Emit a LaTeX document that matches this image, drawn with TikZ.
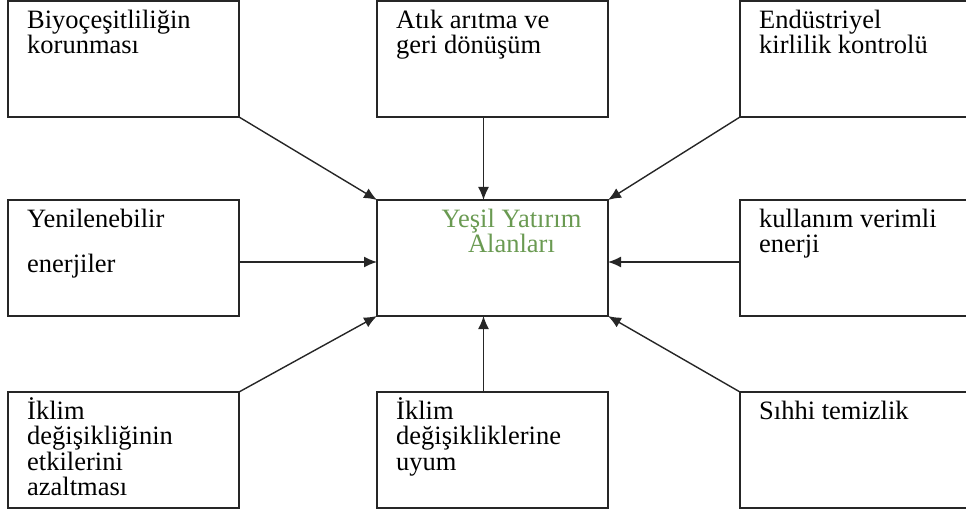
\documentclass[tikz,border=0pt]{standalone}
\usepackage{fontspec}
\setmainfont{Liberation Serif}
\usetikzlibrary{arrows.meta}
\definecolor{yesilgreen}{HTML}{6A9A52}
\tikzset{
  areabox/.style={draw=black!85, line width=1.5pt, anchor=north west,
    minimum width=231pt, minimum height=116pt, inner sep=0pt, outer sep=0pt},
  arealabel/.style={anchor=north west, inner sep=0pt, align=left,
    xshift=19pt, yshift=-4pt, font=\fontsize{26.5}{25.5}\selectfont},
  link/.style={-{Latex[length=13pt,width=11pt]}, line width=1.4pt, draw=black!85}
}
\newcommand{\areanode}[3]{%
  \node[areabox, label={[arealabel]north west:{\rule{0pt}{23pt}#3}}] (#1) at (#2) {};
}

\begin{document}
\begin{tikzpicture}[x=1pt,y=1pt]
  \useasboundingbox (0,0) rectangle (966,-513);

  \areanode{bio}{8,-1}{Biyoçeşitliliğin\\korunması}
  \areanode{atik}{377,-1}{Atık arıtma ve\\geri dönüşüm}
  \areanode{endus}{740,-1}{Endüstriyel\\kirlilik kontrolü}

  \areanode{yenil}{8,-200}{Yenilenebilir\\[19.5pt]enerjiler}
  \node[areabox, label={[arealabel, anchor=north, xshift=0pt, align=center,
    text=yesilgreen]north:{\rule{0pt}{23pt}Yeşil Yatırım\\Alanları}}] (yesil) at (377,-200) {};
  \areanode{enerji}{740,-200}{kullanım verimli\\enerji}

  \areanode{iklim}{8,-392}{İklim\\değişikliğinin\\etkilerini\\azaltması}
  \areanode{uyum}{377,-392}{İklim\\değişikliklerine\\uyum}
  \areanode{sihhi}{740,-392}{Sıhhi temizlik}

  \draw[link] (bio.south east) -- (yesil.north west);
  \draw[link] ([xshift=-9pt]atik.south) -- ([xshift=-9pt]yesil.north);
  \draw[link] (endus.south west) -- (yesil.north east);

  \draw[link] ([yshift=-4pt]yenil.east) -- ([yshift=-4pt]yesil.west);
  \draw[link] ([yshift=-4pt]enerji.west) -- ([yshift=-4pt]yesil.east);

  \draw[link] (iklim.north east) -- (yesil.south west);
  \draw[link] ([xshift=-9pt]uyum.north) -- ([xshift=-9pt]yesil.south);
  \draw[link] (sihhi.north west) -- (yesil.south east);
\end{tikzpicture}
\end{document}
